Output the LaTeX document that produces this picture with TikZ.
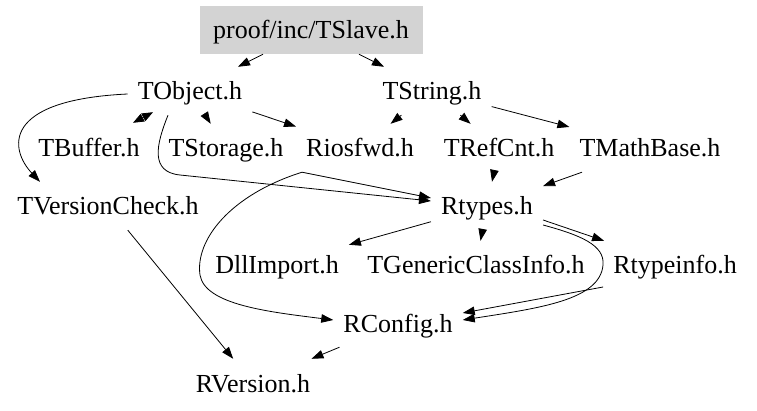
\documentclass[tikz,border=0pt]{standalone}
\usepackage{fontspec}
\setmainfont{Liberation Serif}
\usetikzlibrary{arrows.meta}
\definecolor{rootgray}{RGB}{211,211,211}
\begin{document}
\begin{tikzpicture}[x=1pt,y=-1pt,
  hdr/.style={rectangle, inner xsep=10pt, inner ysep=0pt, minimum height=48pt,
    text height=21pt, text depth=3pt, font=\fontsize{26}{30}\selectfont},
  root/.style={hdr, fill=rootgray, minimum width=223pt},
  e/.style={-{Triangle[length=12pt,width=8.5pt]}, line width=0.8pt, black},
  ee/.style={{Triangle[length=11pt,width=8.5pt]}-{Triangle[length=11pt,width=8.5pt]}, line width=0.8pt, black}]
\useasboundingbox (0,0) rectangle (757,411);
% nodes
\node[root] (tslave) at (311,30) {proof/inc/TSlave.h};
\node[hdr] (tobj) at (190,91) {TObject.h};
\node[hdr] (tstr) at (432,91) {TString.h};
\node[hdr] (tbuf) at (89,148) {TBuffer.h};
\node[hdr] (tsto) at (226,148) {TStorage.h};
\node[hdr] (rios) at (360,148) {Riosfwd.h};
\node[hdr] (tref) at (499,148) {TRefCnt.h};
\node[hdr] (tmath) at (650,148) {TMathBase.h};
\node[hdr] (tvc) at (108,206) {TVersionCheck.h};
\node[hdr] (rtypes) at (487,206) {Rtypes.h};
\node[hdr] (dll) at (277,265) {DllImport.h};
\node[hdr] (tgen) at (476,265) {TGenericClassInfo.h};
\node[hdr] (rti) at (675,265) {Rtypeinfo.h};
\node[hdr] (rconf) at (398,323) {RConfig.h};
\node[hdr] (rver) at (253,383) {RVersion.h};
% edges
\draw[e] (tslave) -- (tobj);
\draw[e] (tslave) -- (tstr);
\draw[ee] ([shift={(-37,-3)}]tobj.south) -- ([shift={(44,-1)}]tbuf.north);
\draw[e] (tobj) -- (tsto);
\draw[e] (tobj) -- (rios);
\draw[e] ([shift={(0,3)}]tobj.west) .. controls (0,100) and (10,150) .. ([shift={(-68,0)}]tvc.north);
\draw[e] ([shift={(-22,0)}]tobj.south) .. controls (156,145) and (150,172) .. (180,175) -- ([shift={(0,-5)}]rtypes.west);
\draw[e] (tstr) -- (rios);
\draw[e] (tstr) -- (tref);
\draw[e] (tstr) -- (tmath);
\draw[e] (tref) -- (rtypes);
\draw[e] (tmath) -- (rtypes);
\draw[e] ([shift={(-58,0)}]rios.south) -- ([shift={(0,-8)}]rtypes.west);
\draw[e] ([shift={(-58,0)}]rios.south) .. controls (230,195) and (195,240) .. (200,275)
  .. controls (205,305) and (270,312) .. ([shift={(0,-3)}]rconf.west);
\draw[e] (rtypes) -- (dll);
\draw[e] (rtypes) -- (tgen);
\draw[e] ([shift={(0,14)}]rtypes.east) -- (rti);
\draw[e] ([shift={(0,19)}]rtypes.east) .. controls (580,235) and (605,245) .. (603,265)
  .. controls (600,300) and (540,308) .. ([shift={(0,-3)}]rconf.east);
\draw[e] ([shift={(0,22)}]rti.west) -- ([shift={(0,-10)}]rconf.east);
\draw[e] (rconf) -- (rver);
\draw[e] (tvc) -- (rver);
\end{tikzpicture}
\end{document}
